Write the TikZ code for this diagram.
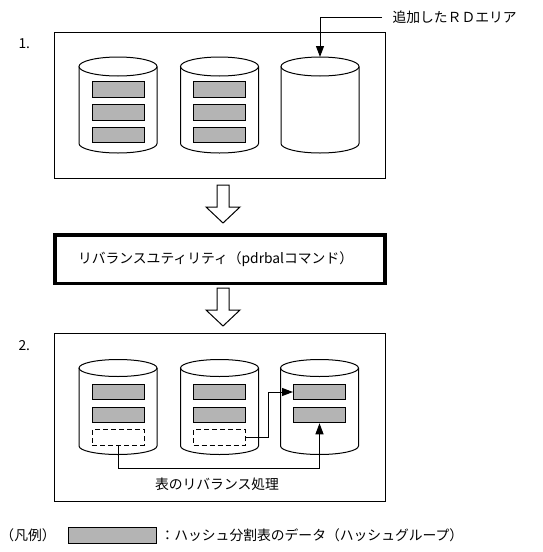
\documentclass[tikz,border=0pt]{standalone}
\usepackage{fontspec}
\usepackage{xcolor}
\usepackage{tikz}
\usetikzlibrary{arrows.meta}
\newfontfamily\jpfont{Noto Sans CJK JP}
\definecolor{hashgray}{HTML}{B4B4B4}

\begin{document}
\begin{tikzpicture}[x=1pt,y=-1pt,line width=1pt,
    font=\jpfont\fontsize{13.8}{16}\selectfont,
    grp/.style={draw,fill=hashgray,minimum width=52pt,minimum height=15.5pt,inner sep=0pt},
    emptygrp/.style={draw,dash pattern=on 5pt off 3pt,minimum width=52pt,minimum height=15.5pt,inner sep=0pt},
    flow/.style={-{Triangle[length=11pt,width=8pt]}}]
  \useasboundingbox (0,0) rectangle (542,552);
  % 1. before
  \draw (54,32) rectangle (385,178);
  \node[anchor=west,inner sep=0pt] (no1) at (18,44) {1.};
  \foreach \cx in {118,219.5,320} {
    \draw (\cx-39,66.5) -- (\cx-39,143.5) arc[start angle=180,end angle=0,x radius=39,y radius=9.5] -- (\cx+39,66.5);
    \draw (\cx,66.5) ellipse[x radius=39,y radius=9.5];
  }
  \foreach \cx/\c in {118/a,219.5/b}
    \foreach \y/\r in {89.5/1,112.5/2,135/3}
      \node[grp] (g\c\r) at (\cx,\y) {};
  \coordinate (newrd) at (320,57);
  \node[anchor=west,inner sep=0pt] (newlbl) at (392,17) {追加したＲＤエリア};
  \draw[flow] ([xshift=-10pt]newlbl.west) -| (newrd);
  % hollow arrows
  \foreach \y in {185,288}
    \draw (217,\y) -- (229,\y) -- (229,\y+22) -- (240,\y+22) -- (223,\y+38) -- (206,\y+22) -- (217,\y+22) -- cycle;
  \node[draw,line width=3.5pt,minimum height=48.5pt,inner xsep=23pt,text width=284pt,align=left] (rebal) at (220,259) {リバランスユティリティ（pdrbalコマンド）};
  % 2. after
  \draw (54,333) rectangle (385,501);
  \node[anchor=west,inner sep=0pt] (no2) at (18,346) {2.};
  \foreach \cx in {118,219.5,319.5} {
    \draw (\cx-39,368) -- (\cx-39,446) arc[start angle=180,end angle=0,x radius=39,y radius=8.5] -- (\cx+39,368);
    \draw (\cx,368) ellipse[x radius=39,y radius=8.5];
  }
  \foreach \cx/\c in {118/a,219.5/b,319.5/c}
    \foreach \y/\r in {392/1,415/2}
      \node[grp] (h\c\r) at (\cx,\y) {};
  \node[emptygrp] (da) at (118,437.5) {};
  \node[emptygrp] (db) at (219.5,437.5) {};
  \draw[flow] (db.east) -- ++(22,0) |- (hc1.west);
  \draw[flow] (da.south) -- ++(0,23) -| (hc2.south);
  \node (movetxt) at (217,484) {表のリバランス処理};
  % legend
  \node[anchor=west,inner sep=0pt] (legend) at (0,535) {（凡例）};
  \node[grp,minimum width=88pt,minimum height=16pt] (legendbox) at (112,535) {};
  \node[anchor=west,inner sep=0pt] (legendtxt) at (160,535) {：ハッシュ分割表のデータ（ハッシュグループ）};
\end{tikzpicture}
\end{document}
